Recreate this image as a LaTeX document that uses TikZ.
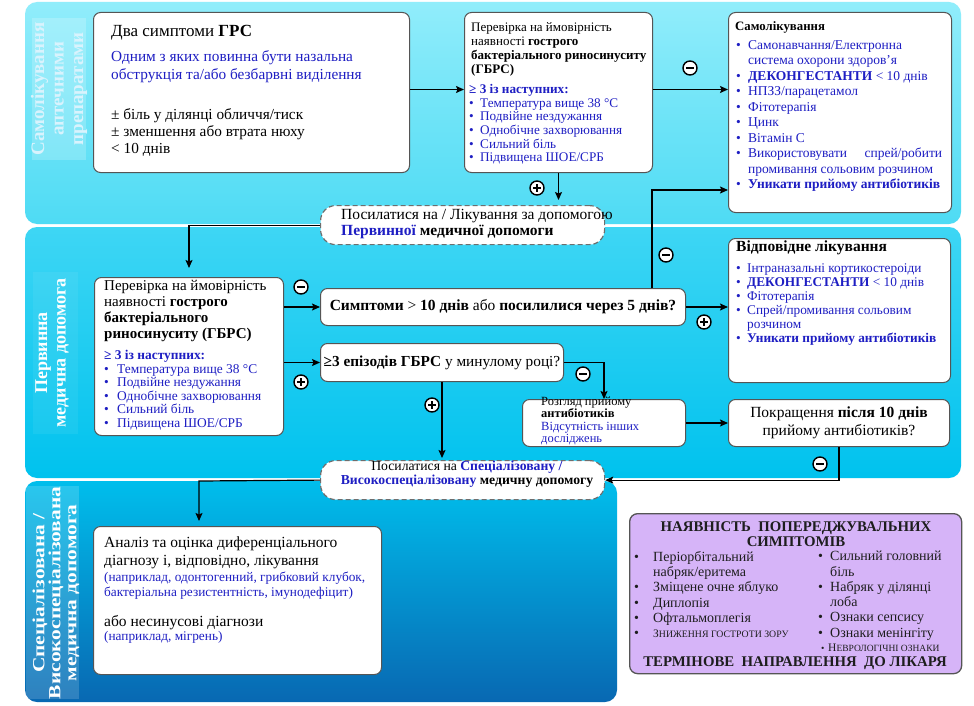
\documentclass[tikz,border=0pt]{standalone}
\usepackage{fontspec}
\setmainfont{Liberation Serif}
\usetikzlibrary{arrows.meta,calc}
\definecolor{txtblue}{RGB}{30,30,195}
\definecolor{bord}{RGB}{85,85,85}
\definecolor{dashc}{RGB}{110,110,110}
\definecolor{bandAt}{RGB}{145,237,251}
\definecolor{bandAb}{RGB}{78,219,244}
\definecolor{bandBt}{RGB}{62,214,244}
\definecolor{bandBb}{RGB}{0,194,238}
\definecolor{bandCt}{RGB}{0,190,236}
\definecolor{bandCb}{RGB}{8,104,178}
\definecolor{purp}{RGB}{214,180,248}
\definecolor{mtxt}{RGB}{30,30,30}
\newcommand\fsz[2]{\fontsize{#1}{#2}\selectfont}
\newcommand\bul[1][11pt]{\makebox[#1][l]{•}}
\begin{document}
\begin{tikzpicture}[x=1pt,y=-1pt,
  wbox/.style={draw=bord, line width=1pt, fill=white, rounded corners=7pt, anchor=north west, inner sep=0pt},
  dbox/.style={draw=dashc, line width=1.2pt, dash pattern=on 5pt off 3pt, fill=white, rounded corners=15pt, anchor=north west, inner sep=0pt},
  txt/.style={anchor=north west, inner sep=0pt, align=left},
  lbl/.style={rotate=90, font=\bfseries\fsz{19}{19.5}, align=center, inner sep=0pt, text=white},
  arr/.style={line width=1.2pt, -{Stealth[length=8pt,width=7pt,inset=1.5pt]}},
  sgn/.style={circle, draw=black, fill=white, line width=1.4pt, minimum size=14pt, inner sep=0pt},
  sgnminus/.style={sgn, path picture={\draw[line width=1.6pt] ([xshift=-3.8pt]path picture bounding box.center) -- ([xshift=3.8pt]path picture bounding box.center);}},
  sgnplus/.style={sgn, path picture={\draw[line width=1.6pt] ([xshift=-3.8pt]path picture bounding box.center) -- ([xshift=3.8pt]path picture bounding box.center); \draw[line width=1.6pt] ([yshift=-3.8pt]path picture bounding box.center) -- ([yshift=3.8pt]path picture bounding box.center);}}
]
\useasboundingbox (0,0) rectangle (974,706);
\fill[white] (0,0) rectangle (974,706);

% bands
\shade[top color=bandAt, bottom color=bandAb, rounded corners=12pt] (25,2) rectangle (961,224);
\shade[top color=bandBt, bottom color=bandBb, rounded corners=12pt] (25,227) rectangle (961,478);
\shade[top color=bandCt, bottom color=bandCb, rounded corners=12pt] (25,481) rectangle (617,702);
\fill[white, opacity=0.2] (32,18) rectangle (86,160);
\fill[white, opacity=0.06] (33,272) rectangle (78,434);
\fill[white, opacity=0.16] (26,486) rectangle (79,699);

% band labels
\node[lbl, text=white!85!cyan] (lab1) at (59,89) {Самолікування\\аптечними\\препаратами};
\node[lbl, font=\bfseries\fsz{18}{18.5}] (lab2) at (52,353) {Первинна\\медична допомога};
\node[lbl, font=\bfseries\fsz{17}{16}, xscale=1.26] (lab3) at (56,593) {Спеціалізована /\\Високоспеціалізована\\медична допомога};

% boxes
\node[wbox, minimum width=316pt, minimum height=160pt] (A) at (93,12) {};
\node[wbox, minimum width=188pt, minimum height=160pt] (B) at (464,12) {};
\node[wbox, minimum width=223pt, minimum height=200pt] (C) at (728,12) {};
\node[dbox, minimum width=284pt, minimum height=39pt] (D) at (320,205) {};
\node[wbox, minimum width=189pt, minimum height=158pt] (E) at (94,277) {};
\node[wbox, minimum width=365pt, minimum height=37pt, font=\fsz{15.5}{17}] (F) at (320,288) {\textbf{Симптоми} > \textbf{10 днів} або \textbf{посилилися через 5 днів?}};
\node[wbox, minimum width=243pt, minimum height=38pt, font=\fsz{15.3}{17}] (G) at (320,343) {\textbf{≥3 епізодів ГБРС} у минулому році?};
\node[wbox, minimum width=222pt, minimum height=144pt] (H) at (728,238) {};
\node[wbox, minimum width=163pt, minimum height=47pt] (I) at (522,399) {};
\node[wbox, minimum width=221pt, minimum height=47pt, font=\fsz{15.5}{17.5}, align=center] (J) at (728,399) {Покращення \textbf{після 10 днів}\\прийому антибіотиків?};
\node[dbox, minimum width=284pt, minimum height=39pt] (K) at (320,460) {};
\node[wbox, minimum width=288pt, minimum height=148pt] (L) at (93,526) {};
\node[draw=bord, line width=1.3pt, fill=purp, rounded corners=8pt, anchor=north west, inner sep=0pt, minimum width=332pt, minimum height=160pt] (M) at (629,513) {};

% connectors
\coordinate (cx) at (652,190);
\coordinate (kl) at (199,481);
\draw[arr] ([yshift=3pt]A.east) -- ([yshift=3pt]B.west);
\draw[arr] ([yshift=3pt]B.east) -- ([yshift=3pt]B.east -| C.west);
\draw[arr, shorten >=5pt] (B.south) -- (B.south |- D.north);
\draw[arr, shorten >=9pt] (D.west) -| (E.north);
\draw[arr] (F.north -| cx) -- (cx) -- (cx -| C.west);
\draw[arr] (E.east |- F.west) -- (F.west);
\draw[arr] (E.east |- G.west) -- (G.west);
\draw[arr] (F.east) -- (F.east -| H.west);
\draw[arr] (G.east) -| (I.north);
\draw[arr, shorten >=2pt] (G.south) -- (G.south |- K.north);
\draw[arr] (I.east) -- (J.west);
\draw[arr] (J.south) |- (K.east);
\draw[arr, shorten >=5pt] (K.west) -- (kl) -- (kl |- L.north);

% texts
\node[txt, font=\fsz{17}{18}] (a1) at (111,25) {Два симптоми \textbf{ГРС}};
\node[txt, font=\fsz{15.3}{18}, text=txtblue] (a2) at (111,50) {Одним з яких повинна бути назальна\\обструкція та/або безбарвні виділення};
\node[txt, font=\fsz{15.3}{17}] (a3) at (111,108) {± біль у ділянці обличчя/тиск\\± зменшення або втрата нюху\\< 10 днів};

\node[txt, font=\fsz{13}{14.3}] (b1) at (471,22) {Перевірка на ймовірність\\наявності \textbf{гострого}\\\textbf{бактеріального риносинуситу}\\\textbf{(ГБРС)}};
\node[txt, font=\fsz{13.2}{13.7}, text=txtblue] (b2) at (469,84) {\textbf{≥ 3 із наступних:}\\\bul Температура вище 38 °C\\\bul Подвійне нездужання\\\bul Однобічне захворювання\\\bul Сильний біль\\\bul Підвищена ШОЕ/СРБ};

\node[txt, font=\bfseries\fsz{12.8}{14}] (c1) at (735,21) {Самолікування};
\node[txt, font=\fsz{13.5}{15.5}, text=txtblue] (c2) at (736,40) {\bul[12pt]Самонавчання/Електронна\\\hspace*{12pt}система охорони здоров'я\\\bul[12pt]\textbf{ДЕКОНГЕСТАНТИ} < 10 днів\\\bul[12pt]НПЗЗ/парацетамол\\\bul[12pt]Фітотерапія\\\bul[12pt]Цинк\\\bul[12pt]Вітамін С\\\bul[12pt]\makebox[194pt][s]{Використовувати\hfill спрей/робити}\\\hspace*{12pt}промивання сольовим розчином\\\bul[12pt]\textbf{Уникати прийому антибіотиків}};

\node[txt, font=\fsz{15.5}{16}] (d1) at (341,209) {Посилатися на / Лікування за допомогою\\\textcolor{txtblue}{\textbf{Первинної}} \textbf{медичної допомоги}};

\node[txt, font=\fsz{15}{16}] (e1) at (104,280) {Перевірка на ймовірність\\наявності \textbf{гострого}\\\textbf{бактеріального}\\\textbf{риносинуситу (ГБРС)}};
\node[txt, font=\fsz{13.4}{13.5}, text=txtblue] (e2) at (104,350) {\textbf{≥ 3 із наступних:}\\\bul[13pt]Температура вище 38 °C\\\bul[13pt]Подвійне нездужання\\\bul[13pt]Однобічне захворювання\\\bul[13pt]Сильний біль\\\bul[13pt]Підвищена ШОЕ/СРБ};

\node[txt, font=\bfseries\fsz{15.5}{16}] (h1) at (736,241) {Відповідне лікування};
\node[txt, font=\fsz{13.3}{14}, text=txtblue] (h2) at (736,263) {\bul Інтраназальні кортикостероіди\\\bul\textbf{ДЕКОНГЕСТАНТИ} < 10 днів\\\bul Фітотерапія\\\bul Спрей/промивання сольовим\\\hspace*{11pt}розчином\\\bul\textbf{Уникати прийому антибіотиків}};

\node[txt, font=\fsz{12.5}{12.2}] (i1) at (541,397) {Розгляд прийому\\\textbf{антибіотиків}\\\textcolor{txtblue}{Відсутність інших}\\\textcolor{txtblue}{досліджень}};

\node[font=\fsz{13.7}{14}, align=center, inner sep=0pt] (k1) at (467,474) {Посилатися на \textcolor{txtblue}{\textbf{Спеціалізовану /}}\\\textcolor{txtblue}{\textbf{Високоспеціалізовану}} \textbf{медичну допомогу}};

\node[txt, font=\fsz{15.5}{18}] (l1) at (104,537) {Аналіз та оцінка диференціального\\діагнозу і, відповідно, лікування};
\node[txt, font=\fsz{13.3}{15}, text=txtblue] (l2) at (104,572) {(наприклад, одонтогенний, грибковий клубок,\\бактеріальна резистентність, імунодефіцит)};
\node[txt, font=\fsz{15.5}{18}] (l3) at (104,615) {або несинусові діагнози};
\node[txt, font=\fsz{13.3}{15}, text=txtblue] (l4) at (104,631) {(наприклад, мігрень)};

\node[font=\bfseries\fsz{14.8}{15}, align=center, inner sep=0pt, text=mtxt] (m1) at (796,534) {НАЯВНІСТЬ\ \ ПОПЕРЕДЖУВАЛЬНИХ\\СИМПТОМІВ};
\node[txt, font=\fsz{14}{15.3}, text=mtxt] (m2) at (634,551) {\bul[19pt]Періорбітальний\\\hspace*{19pt}набряк/еритема\\\bul[19pt]Зміщене очне яблуко\\\bul[19pt]Диплопія\\\bul[19pt]Офтальмоплегія\\\bul[19pt]{\fsz{11.5}{15.3}З}{\fsz{9.8}{15.3}НИЖЕННЯ ГОСТРОТИ ЗОРУ}};
\node[txt, font=\fsz{14}{15.3}, text=mtxt] (m3) at (818,551) {\bul[12pt]Сильний головний\\\hspace*{12pt}біль\\\bul[12pt]Набряк у ділянці\\\hspace*{12pt}лоба\\\bul[12pt]Ознаки сепсису\\\bul[12pt]Ознаки менінгіту};
\node[txt, font=\fsz{9.5}{10}, text=mtxt] (m4) at (821,644) {\makebox[7pt][l]{•}{\fsz{11.5}{12}Н}ЕВРОЛОГІЧНІ ОЗНАКИ};
\node[font=\bfseries\fsz{14.8}{15}, inner sep=0pt, text=mtxt] (m5) at (795,663) {ТЕРМІНОВЕ\ \ НАПРАВЛЕННЯ\ \ ДО ЛІКАРЯ};

% signs
\node[sgnminus] (s1) at (690,68) {};
\node[sgnplus] (s2) at (537,188) {};
\node[sgnminus] (s3) at (666,255) {};
\node[sgnminus] (s4) at (301,287) {};
\node[sgnplus] (s5) at (301,382) {};
\node[sgnplus] (s6) at (704,322) {};
\node[sgnminus] (s7) at (583,374) {};
\node[sgnplus] (s8) at (432,405) {};
\node[sgnminus] (s9) at (820,464) {};
\end{tikzpicture}
\end{document}
